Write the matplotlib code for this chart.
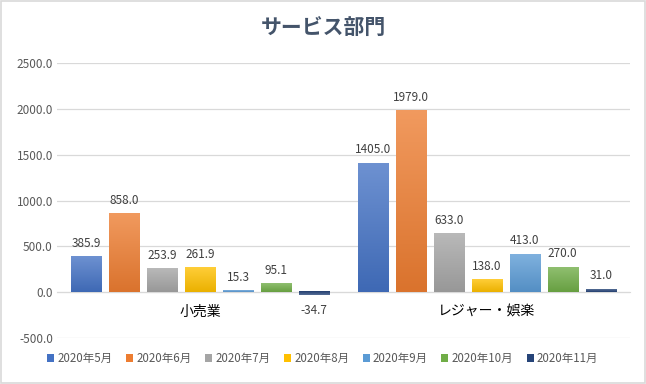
import numpy as np
import matplotlib
matplotlib.use("Agg")
import matplotlib.pyplot as plt
from matplotlib.patches import Patch, Rectangle
from matplotlib.colors import to_rgb

plt.rcParams['font.family'] = ['Noto Sans CJK JP', 'DejaVu Sans']

title = "サービス部門"
categories = ["小売業", "レジャー・娯楽"]
series_names = ["2020年5月", "2020年6月", "2020年7月", "2020年8月",
                "2020年9月", "2020年10月", "2020年11月"]
values = [
    [385.9, 1405.0],
    [858.0, 1979.0],
    [253.9, 633.0],
    [261.9, 138.0],
    [15.3, 413.0],
    [95.1, 270.0],
    [-34.7, 31.0],
]
colors = ["#4472C4", "#ED7D31", "#A5A5A5", "#FFC000", "#5B9BD5", "#70AD47", "#264478"]
yticks = [-500, 0, 500, 1000, 1500, 2000, 2500]

fig = plt.figure(figsize=(6.46, 3.84), dpi=100)
fig.patch.set_facecolor("white")
fig.add_artist(Rectangle((0.0015, 0.002), 0.997, 0.995, transform=fig.transFigure,
                         fill=False, edgecolor="#D9D9D9", linewidth=1.2))

ax = fig.add_axes([57/646, 46/384, 573/646, 275/384])
x = np.arange(len(categories))
n = len(series_names)
pitch = 0.1326
width = 0.105

def shade(c, t):
    r = np.array(to_rgb(c))
    if t >= 0:
        return r + (1 - r) * t
    return r * (1 + t)

for i, (name, vals, col) in enumerate(zip(series_names, values, colors)):
    pos = x + (i - (n - 1) / 2) * pitch
    bars = ax.bar(pos, vals, width=width, color=col, label=name, zorder=3)
    for b, v in zip(bars, vals):
        x0 = b.get_x(); w = b.get_width(); y0 = b.get_y(); h = b.get_height()
        top = shade(col, 0.22); bot = shade(col, -0.08)
        grad = np.linspace(0, 1, 64)[:, None, None]
        img = bot[None, None, :] * (1 - grad) + top[None, None, :] * grad
        if h < 0:
            img = img[::-1]
        ax.imshow(img, extent=(x0, x0 + w, min(y0, y0 + h), max(y0, y0 + h)),
                  origin="lower", aspect="auto", zorder=4, interpolation="bilinear")
        if v >= 0:
            ax.annotate(f"{v:.1f}", (x0 + w / 2, v), xytext=(0, 5), textcoords="offset points",
                        ha="center", va="bottom", fontsize=8.5, color="#404040", zorder=5)
        else:
            ax.annotate(f"{v:.1f}", (x0 + w / 2, v), xytext=(0, -6), textcoords="offset points",
                        ha="center", va="top", fontsize=8.5, color="#404040", zorder=5)

ax.set_xlim(-0.5, len(categories) - 0.5)
ax.set_ylim(-500, 2500)
ax.set_yticks(yticks)
ax.set_yticklabels([f"{v:.1f}" for v in yticks], fontsize=8.5, color="#595959")
ax.set_xticks(x)
ax.set_xticklabels(categories, fontsize=8.7, color="#595959")
ax.tick_params(axis="both", length=0)
ax.tick_params(axis="y", pad=3)
ax.tick_params(axis="x", pad=9)
for s in ["top", "right", "left"]:
    ax.spines[s].set_visible(False)
ax.spines["bottom"].set_position(("data", 0))
ax.spines["bottom"].set_color("#D9D9D9")
ax.spines["bottom"].set_zorder(2)
ax.grid(axis="y", color="#D9D9D9", linewidth=0.9, zorder=0)
ax.set_axisbelow(True)

fig.text(0.5, 0.928, title, ha="center", va="center", fontsize=15, fontweight="bold", color="#44546A")

handles = [Patch(facecolor=c, edgecolor="none") for c in colors]
fig.legend(handles, series_names, loc="center", bbox_to_anchor=(0.5, 0.066), ncol=n,
           frameon=False, fontsize=8.3, handlelength=0.6, handleheight=0.6,
           handletextpad=0.3, columnspacing=1.15, labelcolor="#595959")

fig.savefig("out.png", dpi=100, facecolor="white")
